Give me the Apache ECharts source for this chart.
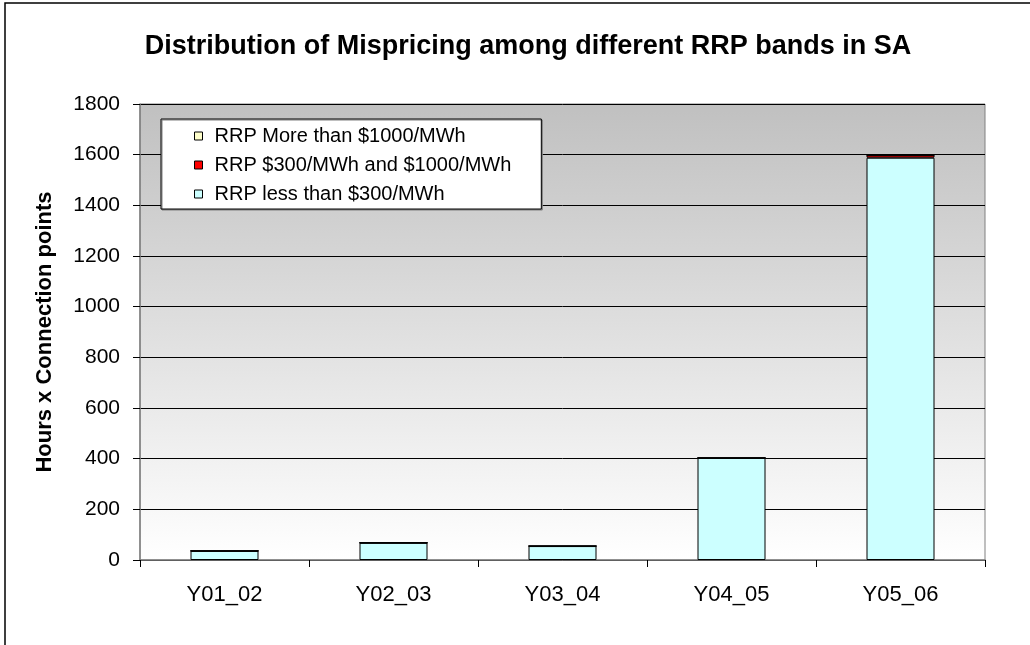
<!DOCTYPE html>
<html>
<head>
<meta charset="utf-8">
<script src="https://cdn.jsdelivr.net/npm/echarts@6/dist/echarts.min.js"></script>
<style>
  html, body { margin: 0; padding: 0; background: #ffffff; }
  #chart { width: 1030px; height: 645px; }
</style>
</head>
<body>
<div id="chart"></div>
<script>
// Financial years
const categories = ['Y01_02', 'Y02_03', 'Y03_04', 'Y04_05', 'Y05_06'];

// Hours x connection points per RRP band
const lessThan300 = [36, 68, 55, 403, 1588];
const between300And1000 = [0, 0, 0, 0, 10];
const moreThan1000 = [0, 0, 0, 0, 0];

const seriesNames = [
  'RRP less than $300/MWh',
  'RRP $300/MWh and $1000/MWh',
  'RRP More than $1000/MWh'
];

const yTicks = { min: 0, max: 1800, interval: 200 };

const FONT = '"Liberation Sans", Arial, sans-serif';

const chart = echarts.init(document.getElementById('chart'), null, { renderer: 'canvas' });

function barSeries(name, data, color) {
  return {
    name: name,
    type: 'bar',
    stack: 'total',
    data: data,
    barWidth: 68,
    itemStyle: { color: color, borderColor: '#000000', borderWidth: 1 },
    emphasis: { disabled: true }
  };
}

chart.setOption({
  animation: false,
  backgroundColor: '#ffffff',
  textStyle: { fontFamily: FONT },
  graphic: [{
    type: 'rect',
    shape: { x: 5, y: 3, width: 1100, height: 700 },
    style: { fill: 'none', stroke: '#000000', lineWidth: 1.5 },
    silent: true,
    z: 100
  }],
  title: {
    text: 'Distribution of Mispricing among different RRP bands in SA',
    left: 523,
    textAlign: 'center',
    top: 28,
    textStyle: { fontFamily: FONT, fontWeight: 'bold', fontSize: 27, color: '#000000' }
  },
  grid: {
    left: 140, right: 45, top: 104, bottom: 85,
    show: true,
    borderColor: '#808080',
    borderWidth: 1,
    backgroundColor: {
      type: 'linear', x: 0, y: 0, x2: 0, y2: 1,
      colorStops: [
        { offset: 0, color: '#c0c0c0' },
        { offset: 1, color: '#ffffff' }
      ]
    }
  },
  legend: {
    orient: 'vertical',
    left: 161,
    top: 119,
    padding: [7, 30, 5, 33],
    itemGap: 9,
    itemWidth: 8,
    itemHeight: 8,
    icon: 'rect',
    backgroundColor: '#ffffff',
    borderColor: '#000000',
    borderWidth: 1,
    shadowColor: '#808080',
    shadowOffsetX: 1,
    shadowOffsetY: 1,
    shadowBlur: 0,
    data: [seriesNames[2], seriesNames[1], seriesNames[0]],
    itemStyle: { borderColor: '#000000', borderWidth: 1 },
    textStyle: { fontFamily: FONT, fontSize: 20, color: '#000000', padding: [0, 0, 0, 7] },
    selectedMode: false
  },
  xAxis: {
    type: 'category',
    data: categories,
    boundaryGap: true,
    axisLine: { lineStyle: { color: '#808080', width: 1.5 } },
    axisTick: { show: true, alignWithLabel: false, length: 7, lineStyle: { color: '#000000' } },
    axisLabel: { fontFamily: FONT, fontSize: 22, color: '#000000', margin: 24 }
  },
  yAxis: {
    type: 'value',
    min: yTicks.min,
    max: yTicks.max,
    interval: yTicks.interval,
    name: 'Hours x Connection points',
    nameLocation: 'middle',
    nameGap: 84,
    nameTextStyle: { fontFamily: FONT, fontWeight: 'bold', fontSize: 22, color: '#000000' },
    axisLine: { show: true, lineStyle: { color: '#808080', width: 1.5 } },
    axisTick: { show: true, length: 7, lineStyle: { color: '#000000' } },
    axisLabel: {
      fontFamily: FONT, fontSize: 21, color: '#000000', margin: 20,
      formatter: function (v) { return String(v); }
    },
    splitLine: { show: true, lineStyle: { color: '#000000', width: 1 } }
  },
  series: [
    barSeries(seriesNames[0], lessThan300, '#ccffff'),
    barSeries(seriesNames[1], between300And1000, '#ff0000'),
    barSeries(seriesNames[2], moreThan1000, '#ffffcc')
  ]
});
</script>
</body>
</html>
